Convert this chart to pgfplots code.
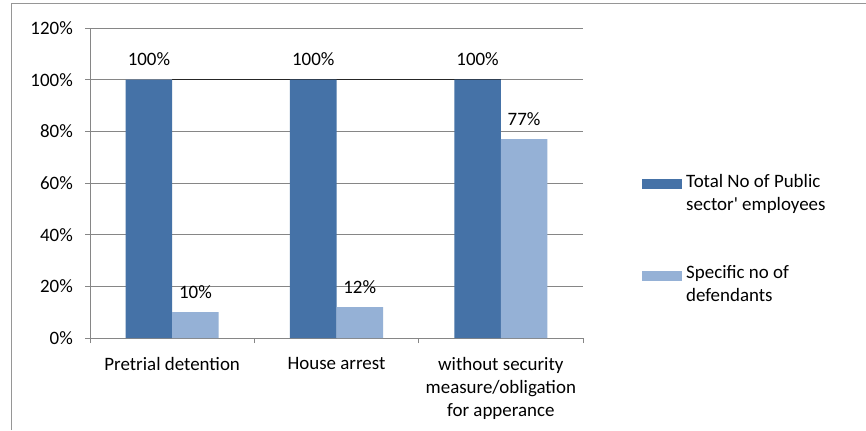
\documentclass[border=0pt]{standalone}
\usepackage{pgfplots}
\pgfplotsset{compat=1.18}
\usepackage{fontspec}
\newfontfamily\carlito{Carlito}
\definecolor{darkbar}{RGB}{69,114,167}
\definecolor{lightbar}{RGB}{149,177,214}
\definecolor{gridgray}{RGB}{134,134,134}
\definecolor{framegray}{RGB}{150,150,150}

\begin{document}
\begin{tikzpicture}[x=1bp,y=1bp]
\useasboundingbox (0,0) rectangle (866,430);
\fill[white] (0,0) rectangle (866,430);
\draw[framegray, line width=1bp] (11,0) -- (11,426) -- (866,426);
\begin{axis}[
  at={(90bp,92bp)}, anchor=south west,
  scale only axis, width=493bp, height=310bp,
  font=\carlito\fontsize{19}{23}\selectfont,
  /pgf/number format/assume math mode=true,
  xmin=-0.5, xmax=2.5, ymin=0, ymax=120,
  axis x line*=bottom, axis y line*=left,
  axis line style={gridgray, line width=0.8bp, -},
  ytick={0,20,...,120},
  yticklabel={\pgfmathprintnumber{\tick}\%},
  yticklabel style={anchor=east, inner sep=0pt, xshift=-12bp},
  ytick style={draw=gridgray, line width=0.8bp},
  major tick length=5bp, tick align=outside,
  ymajorgrids, grid style={gridgray, line width=0.8bp},
  xtick={0,1,2},
  xticklabels={Pretrial detention, House arrest, {without security\\measure/obligation\\for apperance}},
  xticklabel style={anchor=north, align=center, inner sep=0pt, yshift=-14bp},
  xtick style={draw=none},
  extra x ticks={-0.5,0.5,1.5,2.5},
  extra x tick labels={},
  extra x tick style={grid=none, xtick style={draw=gridgray, line width=0.8bp}},
  nodes near coords={\pgfmathprintnumber{\pgfplotspointmeta}\%},
  nodes near coords style={anchor=base, inner sep=0pt, yshift=14bp, text=black},
  legend style={draw=none, fill=none, at={(1.1136,0.535)}, anchor=north west,
    nodes={align=left, inner sep=0pt}, row sep=54bp, column sep=4bp},
  legend cell align=left,
  clip=false,
]
% line joining the tops of the first series
\addplot[black!85, line width=1.3bp, forget plot, nodes near coords={}] coordinates {(0,100) (2,100)};

\addplot[ybar, bar width=0.283, bar shift=-0.1415, fill=darkbar, draw=none,
  nodes near coords style={xshift=-23.25bp},
  legend image code/.code={\fill[darkbar] (0bp,4bp) rectangle (40bp,14bp);}]
  coordinates {(0,100) (1,100) (2,100)};
\addlegendentry{Total No of Public\\sector' employees}

\addplot[ybar, bar width=0.283, bar shift=0.1415, fill=lightbar, draw=none,
  nodes near coords style={xshift=23.25bp},
  legend image code/.code={\fill[lightbar] (0bp,4bp) rectangle (40bp,14bp);}]
  coordinates {(0,10) (1,12) (2,77)};
\addlegendentry{Specific no of\\defendants}
\end{axis}
\end{tikzpicture}
\end{document}
